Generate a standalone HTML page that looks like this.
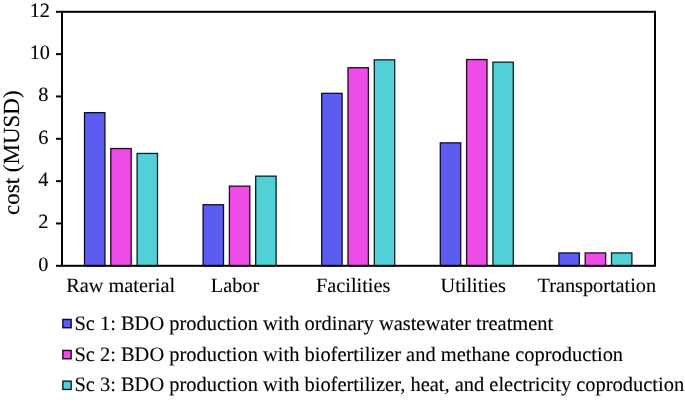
<!DOCTYPE html>
<html><head><meta charset="utf-8"><style>
html,body{margin:0;padding:0;background:#fff;width:685px;height:416px;overflow:hidden}
svg{display:block;will-change:transform}
text{text-rendering:geometricPrecision;stroke:#000;stroke-width:0.12px}
.t{font-family:"Liberation Serif",serif;font-size:20.3px;fill:#000}
.lg{font-family:"Liberation Serif",serif;font-size:20.47px;fill:#000}
.yt{font-family:"Liberation Serif",serif;font-size:23px;fill:#000}
</style></head><body>
<svg width="685" height="416" viewBox="0 0 685 416">
<rect x="84.50" y="112.65" width="20.40" height="153.15" fill="#5c5cf0" stroke="#0c0c2c" stroke-width="1.3"/>
<rect x="110.80" y="148.55" width="20.40" height="117.25" fill="#ee4ce8" stroke="#24061f" stroke-width="1.3"/>
<rect x="137.10" y="153.45" width="20.40" height="112.35" fill="#52d0d8" stroke="#042222" stroke-width="1.3"/>
<rect x="203.10" y="204.75" width="20.40" height="61.05" fill="#5c5cf0" stroke="#0c0c2c" stroke-width="1.3"/>
<rect x="229.40" y="186.15" width="20.40" height="79.65" fill="#ee4ce8" stroke="#24061f" stroke-width="1.3"/>
<rect x="255.70" y="176.15" width="20.40" height="89.65" fill="#52d0d8" stroke="#042222" stroke-width="1.3"/>
<rect x="321.70" y="93.35" width="20.40" height="172.45" fill="#5c5cf0" stroke="#0c0c2c" stroke-width="1.3"/>
<rect x="348.00" y="67.75" width="20.40" height="198.05" fill="#ee4ce8" stroke="#24061f" stroke-width="1.3"/>
<rect x="374.30" y="59.85" width="20.40" height="205.95" fill="#52d0d8" stroke="#042222" stroke-width="1.3"/>
<rect x="440.30" y="142.85" width="20.40" height="122.95" fill="#5c5cf0" stroke="#0c0c2c" stroke-width="1.3"/>
<rect x="466.60" y="59.55" width="20.40" height="206.25" fill="#ee4ce8" stroke="#24061f" stroke-width="1.3"/>
<rect x="492.90" y="62.15" width="20.40" height="203.65" fill="#52d0d8" stroke="#042222" stroke-width="1.3"/>
<rect x="558.90" y="252.95" width="20.40" height="12.85" fill="#5c5cf0" stroke="#0c0c2c" stroke-width="1.3"/>
<rect x="585.20" y="252.95" width="20.40" height="12.85" fill="#ee4ce8" stroke="#24061f" stroke-width="1.3"/>
<rect x="611.50" y="252.95" width="20.40" height="12.85" fill="#52d0d8" stroke="#042222" stroke-width="1.3"/>
<rect x="62.0" y="11.8" width="593.0" height="254.0" fill="none" stroke="#000" stroke-width="2.0"/>
<line x1="56" y1="265.80" x2="62.0" y2="265.80" stroke="#000" stroke-width="2.0"/>
<text x="48.3" y="270.80" text-anchor="end" class="t">0</text>
<line x1="56" y1="223.47" x2="62.0" y2="223.47" stroke="#000" stroke-width="2.0"/>
<text x="48.3" y="228.47" text-anchor="end" class="t">2</text>
<line x1="56" y1="181.13" x2="62.0" y2="181.13" stroke="#000" stroke-width="2.0"/>
<text x="48.3" y="186.13" text-anchor="end" class="t">4</text>
<line x1="56" y1="138.80" x2="62.0" y2="138.80" stroke="#000" stroke-width="2.0"/>
<text x="48.3" y="143.80" text-anchor="end" class="t">6</text>
<line x1="56" y1="96.47" x2="62.0" y2="96.47" stroke="#000" stroke-width="2.0"/>
<text x="48.3" y="101.47" text-anchor="end" class="t">8</text>
<line x1="56" y1="54.13" x2="62.0" y2="54.13" stroke="#000" stroke-width="2.0"/>
<text x="50.0" y="59.13" text-anchor="end" class="t">10</text>
<line x1="56" y1="11.80" x2="62.0" y2="11.80" stroke="#000" stroke-width="2.0"/>
<text x="50.0" y="16.80" text-anchor="end" class="t">12</text>
<text x="120.70" y="292" text-anchor="middle" class="t">Raw material</text>
<text x="235.00" y="292" text-anchor="middle" class="t">Labor</text>
<text x="353.20" y="292" text-anchor="middle" class="t">Facilities</text>
<text x="473.20" y="292" text-anchor="middle" class="t">Utilities</text>
<text x="596.80" y="292" text-anchor="middle" class="t">Transportation</text>
<text transform="translate(18.7,152.7) rotate(-90)" text-anchor="middle" class="yt">cost (MUSD)</text>
<rect x="62.85" y="319.45" width="8.3" height="8.3" fill="#5c5cf0" stroke="#0c0c2c" stroke-width="1.4"/>
<text x="74.4" y="329.70" class="lg">Sc 1: BDO production with ordinary wastewater treatment</text>
<rect x="62.85" y="350.45" width="8.3" height="8.3" fill="#ee4ce8" stroke="#24061f" stroke-width="1.4"/>
<text x="74.4" y="360.70" class="lg">Sc 2: BDO production with biofertilizer and methane coproduction</text>
<rect x="62.85" y="381.15" width="8.3" height="8.3" fill="#52d0d8" stroke="#042222" stroke-width="1.4"/>
<text x="74.4" y="391.40" class="lg">Sc 3: BDO production with biofertilizer, heat, and electricity coproduction</text>
</svg>
</body></html>
